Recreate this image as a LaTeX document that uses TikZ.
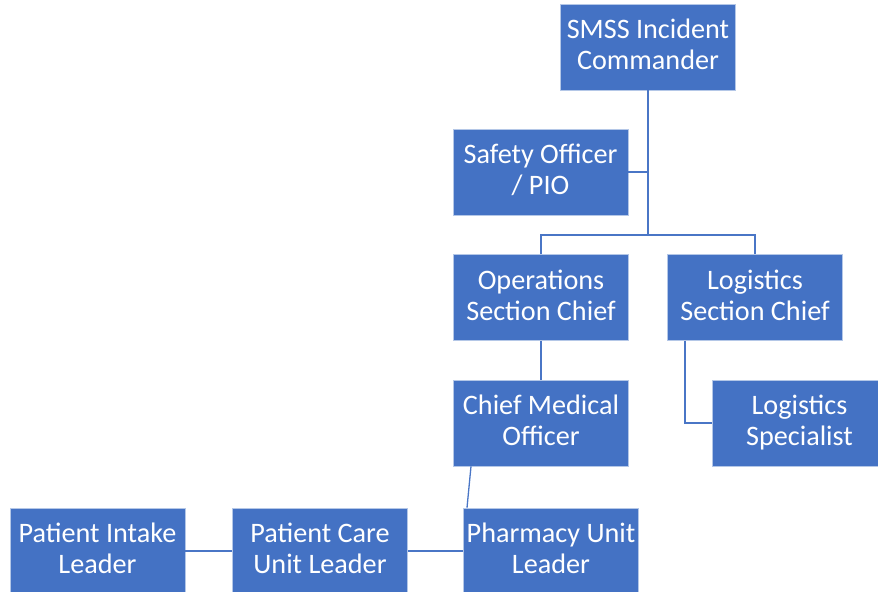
\documentclass[tikz,border=0pt]{standalone}
\usepackage{fontspec}
\setmainfont{Carlito}
\definecolor{boxblue}{HTML}{4472C4}
\definecolor{edgeblue}{HTML}{B4C7E7}
\definecolor{linkblue}{HTML}{4A76C6}
\begin{document}
\begin{tikzpicture}[x=1bp,y=-1bp,
  role/.style={fill=boxblue, draw=edgeblue, line width=0.6bp, text=white,
    align=center, font=\fontsize{28.3}{31}\selectfont, text depth=5bp,
    minimum width=175bp, minimum height=86bp, inner sep=0pt},
  link/.style={draw=linkblue, line width=1.3bp}]
\useasboundingbox (0,0) rectangle (878,592);

% command and staff
\node[role] (ic)     at (648,47)    {SMSS Incident\\Commander};
\node[role] (safety) at (540.5,172) {Safety Officer\\/ PIO};

% sections
\node[role] (ops)  at (541,297.5) {Operations\\Section Chief};
\node[role] (logc) at (755,297.5) {Logistics\\Section Chief};

% second level
\node[role] (cmo)  at (541,423)   {Chief Medical\\Officer};
\node[role] (logs) at (799.5,423) {Logistics\\Specialist};

% unit leaders
\node[role] (intake) at (97.5,551) {Patient Intake\\Leader};
\node[role] (care)   at (320,551)  {Patient Care\\Unit Leader};
\node[role] (pharm)  at (551,551)  {Pharmacy Unit\\Leader};

% connectors
\coordinate (hub) at (648,235);
\draw[link] (ic.south) -- (hub);
\draw[link] (safety.east) -- (safety.east -| hub);
\draw[link] (ops.north) |- (hub);
\draw[link] (logc.north) |- (hub);
\draw[link] (ops.south) -- (cmo.north);
\draw[link] ([xshift=-70bp]logc.south) |- (logs.west);
\draw[link] ([xshift=-70bp]cmo.south) -- ([xshift=-84bp]pharm.north);
\draw[link] (intake.east) -- (care.west);
\draw[link] (care.east) -- (pharm.west);
\end{tikzpicture}
\end{document}
